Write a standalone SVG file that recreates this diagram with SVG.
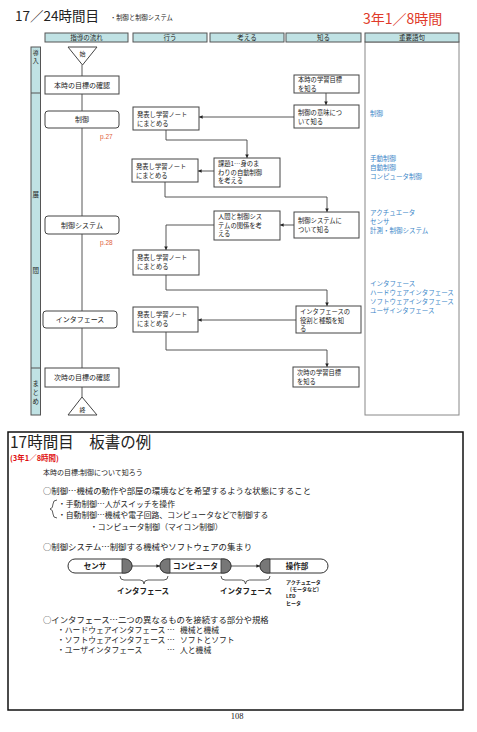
<svg xmlns="http://www.w3.org/2000/svg" width="477" height="732" viewBox="0 0 477 732">
<style>
text{font-family:"Noto Sans CJK JP","Liberation Sans",sans-serif;fill:#222}
.hd{fill:#c0e2e4;stroke:#555;stroke-width:1}
.ht{font-size:6.5px;text-anchor:middle}
.bx{fill:#fff;stroke:#444;stroke-width:1}
.bt{font-size:6.3px}
.ft{font-size:7px;text-anchor:middle}
.kw{font-size:6.5px;fill:#3a86c8}
.pg{font-size:6.5px;fill:#e0603a;font-family:"Liberation Sans",sans-serif}
.cn{fill:none;stroke:#444;stroke-width:0.9}
.bd{font-size:8.4px}
.sb{font-size:7.8px}
.it{font-size:7.8px}
.cap{fill:#fff;stroke:#333;stroke-width:1}
.dk{fill:#777;stroke:#333;stroke-width:0.8}
.cb{font-size:7.5px;font-weight:bold;text-anchor:middle}
.sm{font-size:5px;font-weight:bold}
</style>
<defs>
<marker id="ah" viewBox="0 0 6 6" refX="6" refY="3" markerWidth="4" markerHeight="4" orient="auto"><path d="M0,0 L6,3 L0,6 Z" fill="#222"/></marker>
</defs>

<g id="title">
<text x="15" y="21" style="font-size:13.5px">17／24時間目</text>
<text x="110" y="20" style="font-size:6.3px">・制御と制御システム</text>
<text x="363" y="24" style="font-size:14px;fill:#e03a2a">3年1／8時間</text>
</g>

<g id="headers">
<rect class="hd" x="45" y="33" width="83" height="9"/><text class="ht" x="86.5" y="40">指導の流れ</text>
<rect class="hd" x="133" y="33" width="74" height="9"/><text class="ht" x="170" y="40">行う</text>
<rect class="hd" x="210" y="33" width="74" height="9"/><text class="ht" x="247" y="40">考える</text>
<rect class="hd" x="286" y="33" width="75" height="9"/><text class="ht" x="323.5" y="40">知る</text>
<rect x="365" y="42" width="94" height="373" fill="#fff" stroke="#888" stroke-width="1"/>
<rect class="hd" x="365" y="33" width="94" height="9"/><text class="ht" x="412" y="40">重要語句</text>
</g>

<g id="band">
<rect class="hd" x="31" y="47" width="9.5" height="368"/>
<line x1="31" y1="93" x2="40.5" y2="93" stroke="#555"/>
<line x1="31" y1="368" x2="40.5" y2="368" stroke="#555"/>
<text x="35.7" y="55" style="font-size:6px;text-anchor:middle">導</text>
<text x="35.7" y="63" style="font-size:6px;text-anchor:middle">入</text>
<text x="35.7" y="197" style="font-size:6.5px;text-anchor:middle">展</text>
<text x="35.7" y="273" style="font-size:6.5px;text-anchor:middle">間</text>
<text x="35.7" y="386" style="font-size:6.5px;text-anchor:middle">ま</text>
<text x="35.7" y="395" style="font-size:6.5px;text-anchor:middle">と</text>
<text x="35.7" y="404" style="font-size:6.5px;text-anchor:middle">め</text>
</g>

<g id="connectors">
<line class="cn" x1="82" y1="65" x2="82" y2="397"/>
<path class="cn" d="M326,93 V105" marker-end="url(#ah)"/>
<path class="cn" d="M294,117 H199" marker-end="url(#ah)"/>
<path class="cn" d="M166,130 V140 H247 V158" marker-end="url(#ah)"/>
<path class="cn" d="M214,171 H198" marker-end="url(#ah)"/>
<path class="cn" d="M165,182 V197 H327 V212" marker-end="url(#ah)"/>
<path class="cn" d="M294,225 H280" marker-end="url(#ah)"/>
<path class="cn" d="M214,225 H166 V250" marker-end="url(#ah)"/>
<path class="cn" d="M166,275 V290 H327 V306" marker-end="url(#ah)"/>
<path class="cn" d="M296,320 H198" marker-end="url(#ah)"/>
<path class="cn" d="M166,332 V350 H327 V367" marker-end="url(#ah)"/>
</g>

<g id="start"><polygon points="68,47 97,47 82.5,65" fill="#fff" stroke="#444"/><text x="82.5" y="56" style="font-size:6px;text-anchor:middle">始</text></g>
<g id="end"><polygon points="82,397 68,415 97,415" fill="#fff" stroke="#444"/><text x="82.5" y="412" style="font-size:6px;text-anchor:middle">終</text></g>

<g id="f1"><rect class="bx" x="45" y="76" width="74" height="18"/><text class="ft" x="82" y="87.5">本時の目標の確認</text></g>
<g id="f2"><rect class="bx" x="45" y="111" width="74" height="17" rx="3"/><text class="ft" x="82" y="122">制御</text></g>
<text class="pg" x="100" y="139">p.27</text>
<g id="f3"><rect class="bx" x="45" y="216" width="74" height="18" rx="3"/><text class="ft" x="82" y="227.5">制御システム</text></g>
<text class="pg" x="100" y="245">p.28</text>
<g id="f4"><rect class="bx" x="43" y="311" width="74" height="17" rx="3"/><text class="ft" x="80" y="322">インタフェース</text></g>
<g id="f5"><rect class="bx" x="45" y="368" width="74" height="19"/><text class="ft" x="82" y="380">次時の目標の確認</text></g>

<g id="d1"><rect class="bx" x="133" y="107" width="66" height="23"/><text class="bt" x="137" y="117">発表し学習ノート</text><text class="bt" x="137" y="126">にまとめる</text></g>
<g id="d2"><rect class="bx" x="132" y="159" width="66" height="23"/><text class="bt" x="136" y="169">発表し学習ノート</text><text class="bt" x="136" y="178">にまとめる</text></g>
<g id="d3"><rect class="bx" x="133" y="250" width="66" height="25"/><text class="bt" x="137" y="260">発表し学習ノート</text><text class="bt" x="137" y="269">にまとめる</text></g>
<g id="d4"><rect class="bx" x="133" y="307" width="65" height="25"/><text class="bt" x="137" y="317">発表し学習ノート</text><text class="bt" x="137" y="326">にまとめる</text></g>

<g id="t1"><rect class="bx" x="214" y="158" width="66" height="29"/><text class="bt" x="218" y="166">課題1…身のま</text><text class="bt" x="218" y="174.5">わりの自動制御</text><text class="bt" x="218" y="183">を考える</text></g>
<g id="t2"><rect class="bx" x="214" y="211" width="66" height="29"/><text class="bt" x="218" y="219">人間と制御シス</text><text class="bt" x="218" y="227.5">テムの関係を考</text><text class="bt" x="218" y="236">える</text></g>

<g id="k1"><rect class="bx" x="294" y="75" width="65" height="18"/><text class="bt" x="298" y="82">本時の学習目標</text><text class="bt" x="298" y="90.5">を知る</text></g>
<g id="k2"><rect class="bx" x="294" y="105" width="65" height="23"/><text class="bt" x="298" y="115">制御の意味につ</text><text class="bt" x="298" y="124">いて知る</text></g>
<g id="k3"><rect class="bx" x="294" y="212" width="65" height="26"/><text class="bt" x="298" y="223">制御システムに</text><text class="bt" x="298" y="232">ついて知る</text></g>
<g id="k4"><rect class="bx" x="296" y="306" width="65" height="27"/><text class="bt" x="300" y="314">インタフェースの</text><text class="bt" x="300" y="322.5">役割と種類を知</text><text class="bt" x="300" y="331">る</text></g>
<g id="k5"><rect class="bx" x="293" y="367" width="66" height="20"/><text class="bt" x="297" y="375">次時の学習目標</text><text class="bt" x="297" y="384">を知る</text></g>

<g id="keywords">
<text class="kw" x="370" y="116">制御</text>
<text class="kw" x="370" y="161">手動制御</text>
<text class="kw" x="370" y="170">自動制御</text>
<text class="kw" x="370" y="179">コンピュータ制御</text>
<text class="kw" x="370" y="215">アクチュエータ</text>
<text class="kw" x="370" y="224">センサ</text>
<text class="kw" x="370" y="233">計測・制御システム</text>
<text class="kw" x="370" y="286">インタフェース</text>
<text class="kw" x="370" y="295">ハードウェアインタフェース</text>
<text class="kw" x="370" y="304">ソフトウェアインタフェース</text>
<text class="kw" x="370" y="313">ユーザインタフェース</text>
</g>

<g id="board">
<rect x="8" y="432" width="455" height="278" fill="#fff" stroke="#111" stroke-width="1.5"/>
<text x="10" y="448" style="font-size:15.5px">17時間目　板書の例</text>
<text x="10" y="461" style="font-size:7.5px;font-weight:bold;fill:#e01010">(3年1／8時間)</text>
<text x="43" y="475" style="font-size:7px">本時の目標:制御について知ろう</text>
<text class="bd" x="43" y="494">○制御…機械の動作や部屋の環境などを希望するような状態にすること</text>
<path d="M57,500 Q53,500 53,504 Q53,508.5 50,509 Q53,509.5 53,514 Q53,518 57,518" fill="none" stroke="#333" stroke-width="0.8"/>
<text class="sb" x="58" y="506.5">・手動制御…人がスイッチを操作</text>
<text class="sb" x="58" y="518">・自動制御…機械や電子回路、コンピュータなどで制御する</text>
<text class="sb" x="90" y="529.5">・コンピュータ制御（マイコン制御）</text>
<text class="bd" x="43" y="550">○制御システム…制御する機械やソフトウェアの集まり</text>

<g id="sensor"><rect class="cap" x="68" y="559" width="64" height="14" rx="7"/><path class="dk" d="M122,559 H125 A7,7 0 0 1 125,573 H122 Z"/><text class="cb" x="95" y="569">センサ</text></g>
<g id="computer"><rect class="cap" x="160" y="559" width="71" height="14" rx="7"/><path class="dk" d="M170,559 H167 A7,7 0 0 0 167,573 H170 Z"/><path class="dk" d="M221,559 H224 A7,7 0 0 1 224,573 H221 Z"/><text class="cb" x="195.5" y="569">コンピュータ</text></g>
<g id="actuator"><rect class="cap" x="260" y="559" width="68" height="14" rx="7"/><path class="dk" d="M270,559 H267 A7,7 0 0 0 267,573 H270 Z"/><text class="cb" x="297" y="569">操作部</text></g>
<path class="cn" d="M132,566 H160" marker-end="url(#ah)"/>
<path class="cn" d="M231,566 H260" marker-end="url(#ah)"/>
<path d="M120,576 Q120,580 124,580 H140 Q144,580 144,584 Q144,580 148,580 H164 Q168,580 168,576" fill="none" stroke="#333" stroke-width="0.8"/>
<path d="M221,576 Q221,580 225,580 H241.5 Q245.5,580 245.5,584 Q245.5,580 249.5,580 H266 Q270,580 270,576" fill="none" stroke="#333" stroke-width="0.8"/>
<text class="cb" x="143" y="594">インタフェース</text>
<text class="cb" x="246" y="594">インタフェース</text>
<text class="sm" x="286" y="584">アクチュエータ</text>
<text class="sm" x="290" y="591">(モータなど)</text>
<text class="sm" x="286" y="598">LED</text>
<text class="sm" x="286" y="605">ヒータ</text>

<text class="bd" x="43" y="623">○インタフェース…二つの異なるものを接続する部分や規格</text>
<text class="it" x="57" y="633">・ハードウェアインタフェース</text><text class="it" x="167" y="633">…</text><text class="it" x="180" y="633">機械と機械</text>
<text class="it" x="57" y="643">・ソフトウェアインタフェース</text><text class="it" x="167" y="643">…</text><text class="it" x="180" y="643">ソフトとソフト</text>
<text class="it" x="57" y="653">・ユーザインタフェース</text><text class="it" x="167" y="653">…</text><text class="it" x="180" y="653">人と機械</text>
</g>
<text x="237" y="719" style="font-size:8.5px;font-family:'Liberation Serif',serif;text-anchor:middle">108</text>
</svg>
